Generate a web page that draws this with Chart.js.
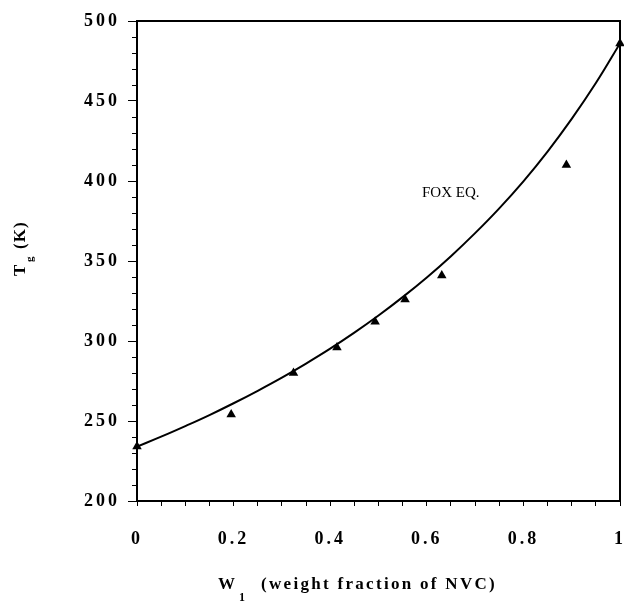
<!DOCTYPE html>
<html>
<head>
<meta charset="utf-8">
<script src="https://cdn.jsdelivr.net/npm/chart.js@4"></script>
<style>
  body { margin: 0; background: #fff; }
  #wrap { width: 624px; height: 602px; }
</style>
</head>
<body>
<div id="wrap"><canvas id="chart" width="624" height="602"></canvas></div>
<script>
// measured points (triangles)
const w1Measured = [0, 0.195, 0.324, 0.414, 0.493, 0.555, 0.631, 0.889, 1.0];
const tgMeasured = [234, 254, 280, 296, 312, 326, 341, 410, 486];

// Fox equation curve
const w1Fox = [0, 0.05, 0.1, 0.15, 0.2, 0.25, 0.3, 0.35, 0.4, 0.45, 0.5,
               0.55, 0.6, 0.65, 0.7, 0.75, 0.8, 0.85, 0.9, 0.95, 1.0];
const tgFox = [234, 240.2, 246.8, 253.7, 261.1, 268.9, 277.1, 285.9, 295.2, 305.2, 315.9,
               327.4, 339.7, 353.0, 367.4, 382.9, 399.8, 418.4, 438.8, 461.2, 486];

const xTickLabels = ['0', '0.2', '0.4', '0.6', '0.8', '1'];
const yTickLabels = ['200', '250', '300', '350', '400', '450', '500'];

const serif = '"Liberation Serif", "DejaVu Serif", serif';

// spaced-out tick digits like the scanned figure
const spacingPlugin = {
    id: 'spacing',
    beforeDraw(chart) { chart.ctx.letterSpacing = '3px'; },
    beforeDatasetsDraw(chart) { chart.ctx.letterSpacing = '0px'; }
};

// frame, minor ticks, axis titles and the curve label
const decorPlugin = {
    id: 'decor',
    afterDraw(chart) {
        const ctx = chart.ctx;
        const a = chart.chartArea;
        const y = chart.scales.y;
        ctx.save();
        ctx.letterSpacing = '0px';
        ctx.strokeStyle = '#000';
        ctx.lineWidth = 2;
        ctx.strokeRect(a.left, a.top, a.right - a.left, a.bottom - a.top);

        // minor ticks on y axis every 10 K
        ctx.lineWidth = 1;
        for (let v = 200; v <= 500; v += 10) {
            if (v % 50 === 0) continue;
            const py = Math.round(y.getPixelForValue(v)) + 0.5;
            ctx.beginPath();
            ctx.moveTo(a.left - 5, py);
            ctx.lineTo(a.left, py);
            ctx.stroke();
        }

        ctx.fillStyle = '#000';
        // x axis title
        ctx.textBaseline = 'alphabetic';
        ctx.textAlign = 'left';
        ctx.font = 'bold 17px ' + serif;
        ctx.fillText('W', 218, 589);
        ctx.font = 'bold 12px ' + serif;
        ctx.fillText('1', 239, 601);
        ctx.font = 'bold 17px ' + serif;
        ctx.letterSpacing = '2.3px';
        ctx.fillText('(weight fraction of NVC)', 261, 589);
        ctx.letterSpacing = '0px';

        // y axis title, rotated
        ctx.translate(25, 276);
        ctx.rotate(-Math.PI / 2);
        ctx.font = 'bold 17px ' + serif;
        ctx.fillText('T', 0, 0);
        ctx.font = 'bold 11px ' + serif;
        ctx.fillText('g', 14, 8);
        ctx.font = 'bold 17px ' + serif;
        ctx.letterSpacing = '1px';
        ctx.fillText('(K)', 27, 0);
        ctx.restore();

        // curve label
        ctx.save();
        ctx.letterSpacing = '0px';
        ctx.fillStyle = '#000';
        ctx.font = '15px ' + serif;
        ctx.textBaseline = 'middle';
        ctx.fillText('FOX EQ.', 422, 193);
        ctx.restore();
    }
};

new Chart(document.getElementById('chart').getContext('2d'), {
    type: 'scatter',
    data: {
        datasets: [
            {
                label: 'Fox eq.',
                data: w1Fox.map((x, i) => ({ x: x, y: tgFox[i] })),
                showLine: true,
                borderColor: '#000',
                borderWidth: 2,
                pointRadius: 0,
                tension: 0.4,
                fill: false
            },
            {
                label: 'measured',
                data: w1Measured.map((x, i) => ({ x: x, y: tgMeasured[i] })),
                pointStyle: 'triangle',
                pointRadius: 5.5,
                backgroundColor: '#000',
                borderColor: '#000',
                borderWidth: 0,
                clip: false
            }
        ]
    },
    options: {
        responsive: false,
        animation: false,
        layout: { padding: { top: 21, right: 4, left: 0, bottom: 0 }, autoPadding: false },
        plugins: {
            legend: { display: false },
            tooltip: { enabled: false }
        },
        scales: {
            x: {
                type: 'linear',
                min: 0,
                max: 1,
                afterFit(scale) {
                    scale.height = 101;
                    scale.paddingLeft = 0;
                    scale.paddingRight = 0;
                },
                border: { display: true, color: '#000', width: 2 },
                grid: { drawOnChartArea: false, drawTicks: true, tickLength: 5, tickColor: '#000', tickWidth: 1 },
                ticks: {
                    stepSize: 0.05,
                    color: '#000',
                    padding: 23,
                    font: { family: serif, size: 18, weight: 'bold' },
                    maxRotation: 0,
                    autoSkip: false,
                    callback(v) {
                        const n = Math.round(v * 100);
                        return n % 20 === 0 ? xTickLabels[n / 20] : '';
                    }
                }
            },
            y: {
                min: 200,
                max: 500,
                afterFit(scale) { scale.width = 137; },
                border: { display: true, color: '#000', width: 2 },
                grid: {
                    drawOnChartArea: false,
                    drawTicks: true,
                    tickLength: 9,
                    tickWidth: 1,
                    tickColor(ctx) {
                        return ctx.tick && ctx.tick.value % 50 === 0 ? '#000' : 'rgba(0,0,0,0)';
                    }
                },
                ticks: {
                    stepSize: 10,
                    color: '#000',
                    padding: 8,
                    autoSkip: false,
                    font: { family: serif, size: 18, weight: 'bold' },
                    callback(v) {
                        return v % 50 === 0 ? yTickLabels[(v - 200) / 50] : '';
                    }
                }
            }
        }
    },
    plugins: [spacingPlugin, decorPlugin]
});
</script>
</body>
</html>
